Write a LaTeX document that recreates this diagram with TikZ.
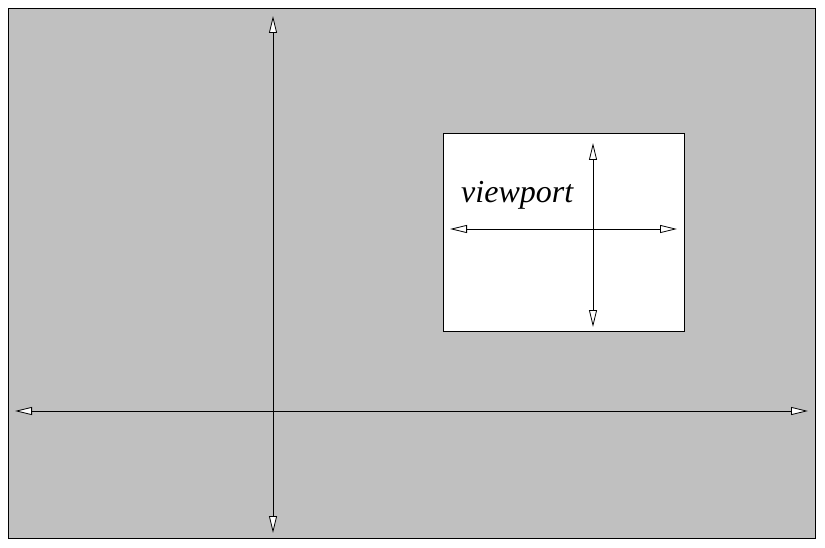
\documentclass[tikz,border=0pt]{standalone}
\usepackage{fontspec}
\setmainfont{Liberation Serif}
\usetikzlibrary{arrows.meta}
\begin{document}
\begin{tikzpicture}[x=1pt,y=-1pt,
  axis/.style={line width=0.8pt,{Triangle[open,fill=white,length=17pt,width=8pt,line width=0.8pt]}-{Triangle[open,fill=white,length=17pt,width=8pt,line width=0.8pt]}},
  frame/.style={draw=black,line width=0.8pt}]
\useasboundingbox (0,0) rectangle (825,548);
\fill[white] (0,0) rectangle (825,548);
\node[frame,fill={rgb,255:red,192;green,192;blue,192},minimum width=807pt,minimum height=530pt,inner sep=0pt,anchor=north west] (world) at (8,8) {};
\node[frame,fill=white,minimum width=241pt,minimum height=198pt,inner sep=0pt,anchor=north west] (vp) at (443,133) {};
\coordinate (wl) at (15,411);
\coordinate (wr) at (808,411);
\coordinate (wt) at (273,16);
\coordinate (wb) at (273,533);
\draw[axis] (wl) -- (wr);
\draw[axis] (wb) -- (wt);
\coordinate (vl) at (450,229);
\coordinate (vr) at (677,229);
\coordinate (vt) at (593,143);
\coordinate (vb) at (593,327);
\draw[axis] (vl) -- (vr);
\draw[axis] (vb) -- (vt);
\node[anchor=base west,inner sep=0pt,font=\fontsize{32pt}{33pt}\selectfont\itshape] (lbl) at (461,203) {viewport};
\end{tikzpicture}
\end{document}
